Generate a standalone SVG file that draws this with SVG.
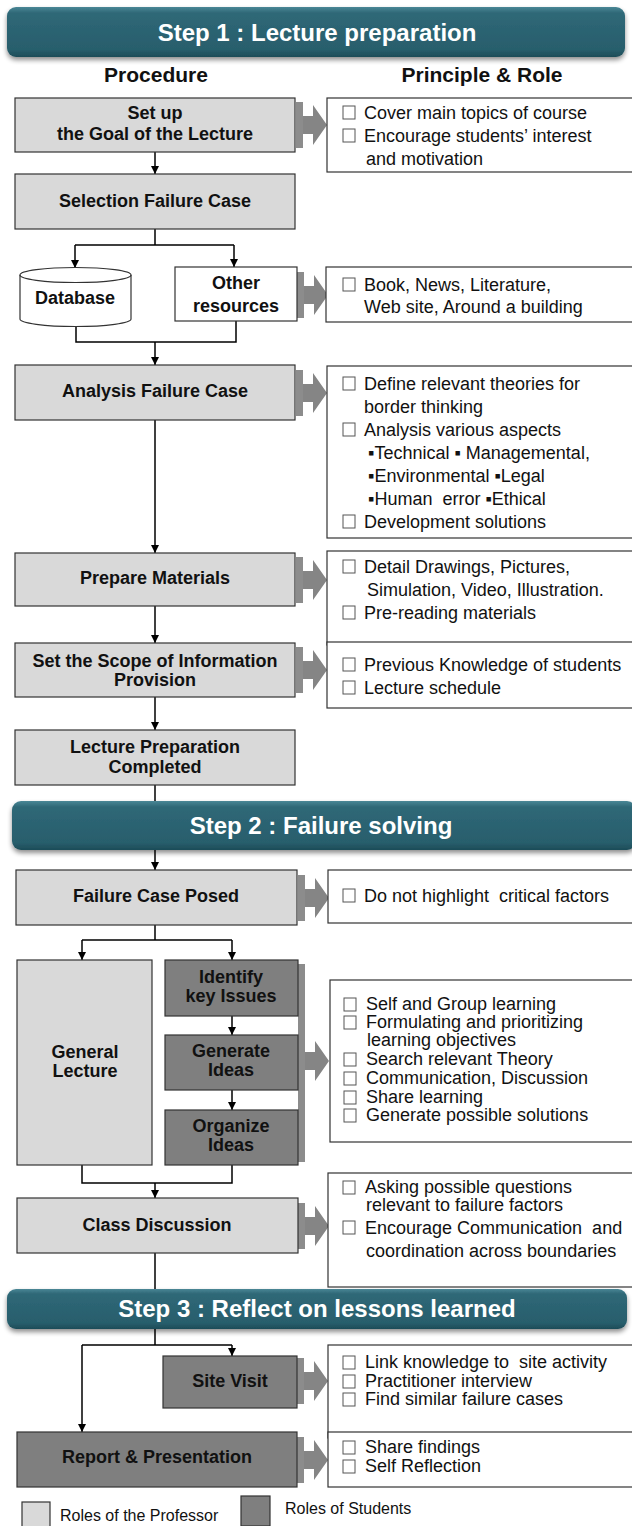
<svg xmlns="http://www.w3.org/2000/svg" width="632" height="1526" viewBox="0 0 632 1526">
<defs>
<linearGradient id="bg" x1="0" y1="0" x2="0" y2="1">
<stop offset="0" stop-color="#4a8796"/>
<stop offset="0.12" stop-color="#2f6877"/>
<stop offset="0.85" stop-color="#285e6c"/>
<stop offset="1" stop-color="#1d4c58"/>
</linearGradient>
<filter id="sh" x="-5%" y="-20%" width="110%" height="150%">
<feGaussianBlur in="SourceAlpha" stdDeviation="2.5"/>
<feOffset dx="0" dy="3" result="b"/>
<feComponentTransfer><feFuncA type="linear" slope="0.45"/></feComponentTransfer>
<feMerge><feMergeNode/><feMergeNode in="SourceGraphic"/></feMerge>
</filter>
<marker id="ah" viewBox="0 0 10 10" refX="10" refY="5" markerWidth="8" markerHeight="8" markerUnits="userSpaceOnUse" orient="auto">
<path d="M0,0 L10,5 L0,10 z" fill="#000"/>
</marker>
<g id="fat">
<rect x="0" y="0" width="7" height="46" fill="#8c8c8c"/>
<path d="M7,14 H17 V3 L31,23 L17,43 V32 H7 z" fill="#858585"/>
</g>
<g id="cb"><rect x="0" y="0" width="12" height="13" fill="none" stroke="#555" stroke-width="1"/></g>
</defs>
<style>
.pro{fill:#d9d9d9;stroke:#333;stroke-width:1.2}
.stu{fill:#7f7f7f;stroke:#333;stroke-width:1.2}
.rb{fill:#fff;stroke:#333;stroke-width:1.2}
.ban{fill:url(#bg);filter:url(#sh)}
.bt{font-family:"Liberation Sans",Arial,sans-serif;font-weight:bold;font-size:24px;fill:#fff;text-anchor:middle}
.hd{font-family:"Liberation Sans",Arial,sans-serif;font-weight:bold;font-size:21px;fill:#111;text-anchor:middle}
.lb{font-family:"Liberation Sans",Arial,sans-serif;font-weight:bold;font-size:18px;fill:#111;text-anchor:middle}
.tx{font-family:"Liberation Sans",Arial,sans-serif;font-size:18px;fill:#111}
.ts{font-family:"Liberation Sans",Arial,sans-serif;font-size:18px;fill:#111}
.lg{font-family:"Liberation Sans",Arial,sans-serif;font-size:16px;fill:#111}
.ln{fill:none;stroke:#000;stroke-width:1.5}
</style>
<rect width="632" height="1526" fill="#fff"/>

<!-- Banners -->
<g id="banner1"><rect class="ban" x="7" y="7" width="618" height="50" rx="9"/><text class="bt" x="317" y="41">Step 1 : Lecture preparation</text></g>
<g id="banner2"><rect class="ban" x="12" y="801" width="624" height="49" rx="9"/><text class="bt" x="321" y="834">Step 2 : Failure solving</text></g>
<g id="banner3"><rect class="ban" x="7" y="1289" width="620" height="40" rx="9"/><text class="bt" x="317" y="1317">Step 3 : Reflect on lessons learned</text></g>

<g id="headers">
<text class="hd" x="156" y="82">Procedure</text>
<text class="hd" x="482" y="82">Principle &amp; Role</text>
</g>

<!-- Connectors -->
<g id="connectors">
<path class="ln" d="M155,152 V174" marker-end="url(#ah)"/>
<path class="ln" d="M155,229 V245 M75,245 H234"/>
<path class="ln" d="M75,245 V268" marker-end="url(#ah)"/>
<path class="ln" d="M234,245 V267" marker-end="url(#ah)"/>
<path class="ln" d="M76,326 V342 H236 V321"/>
<path class="ln" d="M155,342 V365" marker-end="url(#ah)"/>
<path class="ln" d="M155,420 V553" marker-end="url(#ah)"/>
<path class="ln" d="M155,606 V643" marker-end="url(#ah)"/>
<path class="ln" d="M155,697 V730" marker-end="url(#ah)"/>
<path class="ln" d="M155,785 V801"/>
<path class="ln" d="M155,850 V870" marker-end="url(#ah)"/>
<path class="ln" d="M155,925 V940 M82,940 H232"/>
<path class="ln" d="M82,940 V960" marker-end="url(#ah)"/>
<path class="ln" d="M232,940 V960" marker-end="url(#ah)"/>
<path class="ln" d="M232,1016 V1035" marker-end="url(#ah)"/>
<path class="ln" d="M232,1090 V1110" marker-end="url(#ah)"/>
<path class="ln" d="M82,1165 V1183 H232 V1165"/>
<path class="ln" d="M155,1183 V1198" marker-end="url(#ah)"/>
<path class="ln" d="M155,1253 V1289"/>
<path class="ln" d="M155,1329 V1345 M82,1345 H232"/>
<path class="ln" d="M232,1345 V1356" marker-end="url(#ah)"/>
<path class="ln" d="M82,1345 V1432" marker-end="url(#ah)"/>
</g>

<!-- Fat arrows -->
<g id="fatarrows">
<use href="#fat" x="296" y="102"/>
<use href="#fat" x="297" y="272"/>
<use href="#fat" x="296" y="370"/>
<use href="#fat" x="296" y="557"/>
<use href="#fat" x="296" y="647"/>
<use href="#fat" x="298" y="875"/>
<rect x="298" y="964" width="7" height="198" fill="#8c8c8c"/>
<path d="M305,1052 H315 V1041 L329,1061 L315,1081 V1070 H305 z" fill="#858585"/>
<use href="#fat" x="298" y="1203"/>
<use href="#fat" x="297" y="1358"/>
<use href="#fat" x="297" y="1437"/>
</g>

<!-- Step 1 nodes -->
<g id="n-goal"><rect class="pro" x="15" y="98" width="280" height="54"/><text class="lb" x="155" y="119">Set up</text><text class="lb" x="155" y="140">the Goal of the Lecture</text></g>
<g id="r-goal"><rect class="rb" x="327" y="98" width="310" height="74"/>
<use href="#cb" x="343" y="106"/><text class="tx" x="364" y="119">Cover main topics of course</text>
<use href="#cb" x="343" y="129"/><text class="tx" x="364" y="142">Encourage students’ interest</text>
<text class="tx" x="366" y="165">and motivation</text></g>

<g id="n-select"><rect class="pro" x="15" y="174" width="280" height="55"/><text class="lb" x="155" y="207">Selection Failure Case</text></g>

<g id="n-db"><path d="M20,275 A55.5,7.5 0 0 1 131,275 V319 A55.5,7.5 0 0 1 20,319 Z" fill="#fff" stroke="#333" stroke-width="1.2"/>
<path d="M20,275 A55.5,7.5 0 0 0 131,275" fill="none" stroke="#333" stroke-width="1.2"/>
<text class="lb" x="75" y="304">Database</text></g>
<g id="n-other"><rect class="rb" x="175" y="267" width="122" height="54"/><text class="lb" x="236" y="289">Other</text><text class="lb" x="236" y="312">resources</text></g>
<g id="r-other"><rect class="rb" x="326" y="267" width="310" height="55"/>
<use href="#cb" x="343" y="278"/><text class="tx" x="364" y="291">Book, News, Literature,</text>
<text class="tx" x="364" y="313">Web site, Around a building</text></g>

<g id="n-analysis"><rect class="pro" x="15" y="365" width="280" height="55"/><text class="lb" x="155" y="397">Analysis Failure Case</text></g>
<g id="r-analysis"><rect class="rb" x="327" y="366" width="310" height="172"/>
<use href="#cb" x="343" y="377"/><text class="tx" x="364" y="390">Define relevant theories for</text>
<text class="tx" x="364" y="413">border thinking</text>
<use href="#cb" x="343" y="423"/><text class="tx" x="364" y="436">Analysis various aspects</text>
<text class="tx" x="368" y="459">▪Technical ▪ Managemental,</text>
<text class="tx" x="368" y="482">▪Environmental ▪Legal</text>
<text class="tx" x="368" y="505">▪Human&#160; error ▪Ethical</text>
<use href="#cb" x="343" y="515"/><text class="tx" x="364" y="528">Development solutions</text></g>

<g id="n-prepare"><rect class="pro" x="15" y="553" width="280" height="53"/><text class="lb" x="155" y="584">Prepare Materials</text></g>
<g id="r-prepare"><rect class="rb" x="327" y="551" width="310" height="94"/>
<use href="#cb" x="343" y="560"/><text class="tx" x="364" y="573">Detail Drawings, Pictures,</text>
<text class="tx" x="367" y="596">Simulation, Video, Illustration.</text>
<use href="#cb" x="343" y="606"/><text class="tx" x="364" y="619">Pre-reading materials</text></g>

<g id="n-scope"><rect class="pro" x="15" y="643" width="280" height="54"/><text class="lb" x="155" y="667">Set the Scope of Information</text><text class="lb" x="155" y="686">Provision</text></g>
<g id="r-scope"><rect class="rb" x="327" y="642" width="310" height="66"/>
<use href="#cb" x="343" y="658"/><text class="tx" x="364" y="671">Previous Knowledge of students</text>
<use href="#cb" x="343" y="681"/><text class="tx" x="364" y="694">Lecture schedule</text></g>

<g id="n-completed"><rect class="pro" x="15" y="730" width="280" height="55"/><text class="lb" x="155" y="753">Lecture Preparation</text><text class="lb" x="155" y="773">Completed</text></g>

<!-- Step 2 nodes -->
<g id="n-posed"><rect class="pro" x="16" y="870" width="281" height="55"/><text class="lb" x="156" y="902">Failure Case Posed</text></g>
<g id="r-posed"><rect class="rb" x="328" y="870" width="310" height="53"/>
<use href="#cb" x="343" y="889"/><text class="tx" x="364" y="902">Do not highlight&#160; critical factors</text></g>

<g id="n-general"><rect class="pro" x="17" y="960" width="135" height="205"/><text class="lb" x="85" y="1058">General</text><text class="lb" x="85" y="1077">Lecture</text></g>
<g id="n-identify"><rect class="stu" x="165" y="960" width="133" height="56"/><text class="lb" x="231" y="983">Identify</text><text class="lb" x="231" y="1002">key Issues</text></g>
<g id="n-generate"><rect class="stu" x="165" y="1035" width="133" height="55"/><text class="lb" x="231" y="1057">Generate</text><text class="lb" x="231" y="1076">Ideas</text></g>
<g id="n-organize"><rect class="stu" x="165" y="1110" width="133" height="55"/><text class="lb" x="231" y="1132">Organize</text><text class="lb" x="231" y="1151">Ideas</text></g>
<g id="r-learning"><rect class="rb" x="330" y="980" width="307" height="162"/>
<use href="#cb" x="344" y="998"/><text class="ts" x="366" y="1010">Self and Group learning</text>
<use href="#cb" x="344" y="1016"/><text class="ts" x="366" y="1028">Formulating and prioritizing</text>
<text class="ts" x="367" y="1046">learning objectives</text>
<use href="#cb" x="344" y="1053"/><text class="ts" x="366" y="1065">Search relevant Theory</text>
<use href="#cb" x="344" y="1072"/><text class="ts" x="366" y="1084">Communication, Discussion</text>
<use href="#cb" x="344" y="1091"/><text class="ts" x="366" y="1103">Share learning</text>
<use href="#cb" x="344" y="1109"/><text class="ts" x="366" y="1121">Generate possible solutions</text></g>

<g id="n-class"><rect class="pro" x="17" y="1198" width="281" height="55"/><text class="lb" x="157" y="1231">Class Discussion</text></g>
<g id="r-class"><rect class="rb" x="328" y="1173" width="310" height="114"/>
<use href="#cb" x="343" y="1181"/><text class="ts" x="365" y="1193">Asking possible questions</text>
<text class="ts" x="366" y="1211">relevant to failure factors</text>
<use href="#cb" x="343" y="1221"/><text class="tx" x="365" y="1234">Encourage Communication&#160; and</text>
<text class="tx" x="366" y="1257">coordination across boundaries</text></g>

<!-- Step 3 nodes -->
<g id="n-site"><rect class="stu" x="163" y="1356" width="134" height="52"/><text class="lb" x="230" y="1387">Site Visit</text></g>
<g id="r-site"><rect class="rb" x="328" y="1345" width="310" height="93"/>
<use href="#cb" x="343" y="1356"/><text class="ts" x="365" y="1368">Link knowledge to&#160; site activity</text>
<use href="#cb" x="343" y="1375"/><text class="ts" x="365" y="1387">Practitioner interview</text>
<use href="#cb" x="343" y="1393"/><text class="ts" x="365" y="1405">Find similar failure cases</text></g>

<g id="n-report"><rect class="stu" x="17" y="1432" width="280" height="55"/><text class="lb" x="157" y="1463">Report &amp; Presentation</text></g>
<g id="r-report"><rect class="rb" x="328" y="1432" width="310" height="55"/>
<use href="#cb" x="343" y="1441"/><text class="ts" x="365" y="1453">Share findings</text>
<use href="#cb" x="343" y="1460"/><text class="ts" x="365" y="1472">Self Reflection</text></g>

<!-- Legend -->
<g id="legend">
<rect class="pro" x="22" y="1502" width="28" height="26" stroke="#666"/>
<text class="lg" x="60" y="1521">Roles of the Professor</text>
<rect class="stu" x="241" y="1496" width="29" height="30" stroke="#666"/>
<text class="lg" x="285" y="1514">Roles of Students</text>
</g>
</svg>
